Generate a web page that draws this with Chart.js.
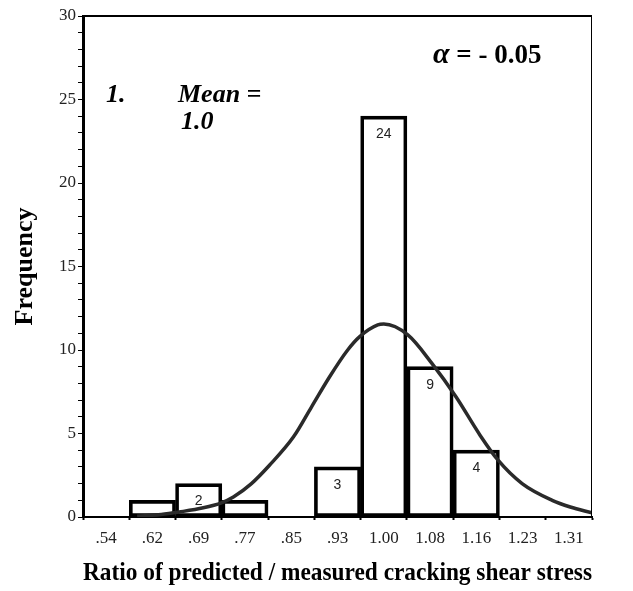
<!DOCTYPE html>
<html>
<head>
<meta charset="utf-8">
<script src="https://cdn.jsdelivr.net/npm/chart.js@4.4.0/dist/chart.umd.min.js"></script>
<style>
  html, body { margin: 0; padding: 0; background: #fff; }
</style>
</head>
<body>
<canvas id="histChart" width="633" height="591"></canvas>
<script>
// histogram bins (midpoints of the ratio classes) and their counts
const binMids = [0.5385, 0.6154, 0.6923, 0.7692, 0.8462, 0.9231, 1.0000, 1.0769, 1.1538, 1.2308, 1.3077];
const tickLabels = ['.54', '.62', '.69', '.77', '.85', '.93', '1.00', '1.08', '1.16', '1.23', '1.31'];
const counts = [0, 1, 2, 1, 0, 3, 24, 9, 4, 0, 0];

// normal curve overlay
const curveX = [0.59, 0.63, 0.66, 0.70, 0.73, 0.75, 0.78, 0.81, 0.85, 0.88, 0.91, 0.94, 0.96, 0.99, 1.00, 1.04, 1.08, 1.12, 1.16, 1.19, 1.23, 1.28, 1.31, 1.346];
const curveY = [0.05, 0.15, 0.3, 0.55, 0.85, 1.2, 2.0, 3.1, 4.8, 6.6, 8.4, 10.0, 10.8, 11.5, 11.55, 10.9, 9.2, 7.2, 4.9, 3.4, 2.0, 1.0, 0.6, 0.25];

const serif = '"Liberation Serif", "Times New Roman", serif';

const bars = binMids.map((x, i) => ({ x: x, y: counts[i] })).filter(p => p.y > 0);
const curve = curveX.map((x, i) => ({ x: x, y: curveY[i] }));

// frame, bar counts and the text notes
const extras = {
  id: 'extras',
  afterDraw(chart) {
    const ctx = chart.ctx;
    const a = chart.chartArea;
    ctx.save();
    ctx.strokeStyle = '#000';
    ctx.lineWidth = 2;
    ctx.beginPath();
    ctx.moveTo(a.left, a.top);
    ctx.lineTo(a.right, a.top);
    ctx.stroke();
    ctx.lineWidth = 1;
    ctx.beginPath();
    ctx.moveTo(a.right - 0.5, a.top);
    ctx.lineTo(a.right - 0.5, a.bottom);
    ctx.stroke();

    // counts inside the bars
    const meta = chart.getDatasetMeta(1);
    ctx.fillStyle = '#222';
    ctx.font = '14px "Liberation Sans", Arial, sans-serif';
    ctx.textAlign = 'center';
    ctx.textBaseline = 'middle';
    meta.data.forEach((el, i) => {
      const n = bars[i].y;
      if (n > 1) ctx.fillText(String(n), el.x, el.y + 18);
    });

    ctx.fillStyle = '#000';
    ctx.textAlign = 'left';
    ctx.textBaseline = 'alphabetic';
    ctx.font = 'italic bold 26px ' + serif;
    ctx.fillText('1.', 106, 102);
    ctx.fillText('Mean =', 178, 102);
    ctx.fillText('1.0', 181, 129);

    ctx.font = 'italic bold 30px ' + serif;
    ctx.fillText('\u03B1', 433, 63);
    const aw = ctx.measureText('\u03B1').width;
    ctx.font = 'bold 27px ' + serif;
    ctx.fillText(' = - 0.05', 433 + aw, 63);
    ctx.restore();
  }
};

new Chart(document.getElementById('histChart').getContext('2d'), {
  type: 'bar',
  data: {
    datasets: [
      {
        type: 'line',
        data: curve,
        borderColor: '#2a2a2a',
        borderWidth: 3.5,
        pointRadius: 0,
        fill: false,
        cubicInterpolationMode: 'monotone',
        order: 0
      },
      {
        type: 'bar',
        data: bars,
        backgroundColor: 'rgba(255,255,255,0)',
        borderColor: '#000',
        borderWidth: 3,
        borderSkipped: false,
        barPercentage: 1,
        categoryPercentage: 1,
        order: 1
      }
    ]
  },
  options: {
    responsive: false,
    animation: false,
    devicePixelRatio: 1,
    layout: { padding: { left: 0, top: 16, right: 41, bottom: 0 } },
    plugins: { legend: { display: false }, tooltip: { enabled: false } },
    scales: {
      x: {
        type: 'linear',
        offset: false,
        min: 0.5,
        max: 1.34615,
        afterFit(scale) { scale.height = 74; },
        afterBuildTicks(scale) { scale.ticks = binMids.map(v => ({ value: v })); },
        ticks: {
          autoSkip: false,
          maxRotation: 0,
          padding: 8,
          color: '#222',
          font: { family: serif, size: 17 },
          callback: (v, i) => tickLabels[i]
        },
        grid: { drawOnChartArea: false, drawTicks: true, tickLength: 3, tickWidth: 2, color: '#000' },
        border: { display: true, color: '#000', width: 2 },
        title: {
          display: true,
          text: 'Ratio of predicted / measured cracking shear stress',
          color: '#000',
          font: { family: serif, size: 26, weight: 'bold' },
          padding: { top: 0, bottom: 2 }
        }
      },
      y: {
        min: 0,
        max: 30,
        afterFit(scale) { scale.width = 83; },
        ticks: {
          stepSize: 1,
          autoSkip: false,
          padding: 2,
          color: '#222',
          font: { family: serif, size: 17 },
          callback: v => (v % 5 === 0 ? String(v) : '')
        },
        grid: { drawOnChartArea: false, drawTicks: true, tickLength: 5, color: '#000' },
        border: { display: true, color: '#000', width: 3 },
        title: {
          display: true,
          text: 'Frequency',
          color: '#000',
          font: { family: serif, size: 26, weight: 'bold' },
          padding: { top: 10, bottom: 0 }
        }
      }
    }
  },
  plugins: [extras]
});
</script>
</body>
</html>
